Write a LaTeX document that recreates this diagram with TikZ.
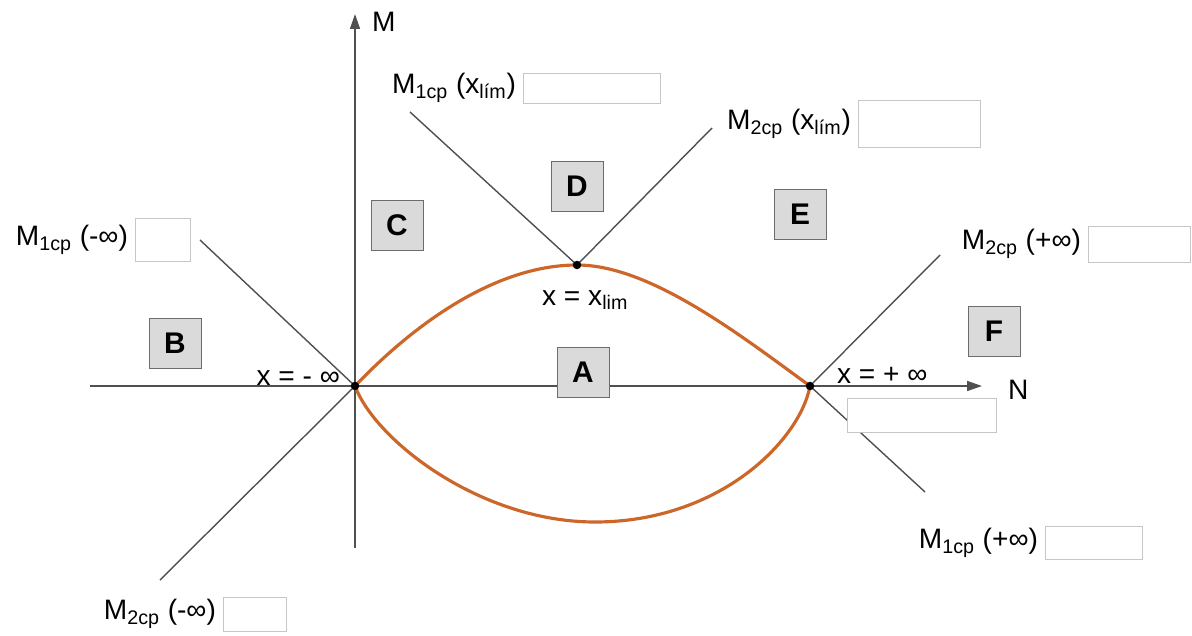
\documentclass[tikz,border=0pt]{standalone}
\usepackage{fontspec}
\setmainfont{Liberation Sans}
\usetikzlibrary{arrows.meta,positioning}
\definecolor{ccurve}{RGB}{204,102,41}
\definecolor{cline}{RGB}{80,80,80}
\definecolor{cregion}{RGB}{218,218,218}

\begin{document}
\begin{tikzpicture}[x=0.02cm, y=-0.02cm,
  font=\fontsize{16}{19}\selectfont,
  region/.style={draw=gray!85!black, fill=cregion, minimum width=1.04cm, minimum height=1cm, font=\fontsize{17}{19}\selectfont\bfseries},
  blank/.style={draw=gray!45, fill=white, inner sep=0pt},
  lbl/.style={inner sep=1pt},
  ln/.style={cline, line width=0.8pt},
  axis/.style={cline, line width=0.9pt, -{Triangle[length=3mm,width=2mm]}},
  curve/.style={ccurve, line width=1.8pt},
  pt/.style={circle, fill=black, inner sep=0pt, minimum size=1.7mm},
]
\useasboundingbox (0,0) rectangle (1192,635);

% ---- axes ----
\coordinate (nl) at (90,386);
\coordinate (nr) at (982,386);
\coordinate (mb) at (355,548);
\coordinate (mt) at (355,14);
\draw[axis] (nl) -- (nr);
\draw[axis] (mb) -- (mt);
\node[lbl, anchor=west] (N) at (1006,390) {N};
\node[lbl, anchor=west] (M) at (370,22) {M};

% ---- key points ----
\coordinate (pmi) at (355,386);
\coordinate (pxl) at (577,265);
\coordinate (ppi) at (810,386);

% ---- interaction curve ----
\draw[curve] (pmi) .. controls (420,318) and (500,265) .. (pxl)
  .. controls (650,265) and (740,335) .. (ppi);
\draw[curve] (pmi) .. controls (375,440) and (480,522) .. (595,522)
  .. controls (720,522) and (800,440) .. (ppi);

% ---- limit lines ----
\coordinate (e1mi) at (200,240);
\coordinate (e2mi) at (160,580);
\coordinate (e1xl) at (410,112);
\coordinate (e2xl) at (712,128);
\coordinate (e2pi) at (940,255);
\coordinate (e1pi) at (925,492);
\draw[ln] (e1mi) -- (pmi);
\draw[ln] (pmi) -- (e2mi);
\draw[ln] (e1xl) -- (pxl);
\draw[ln] (pxl) -- (e2xl);
\draw[ln] (ppi) -- (e2pi);
\draw[ln] (ppi) -- (e1pi);
\node[pt] (dmi) at (pmi) {};
\node[pt] (dxl) at (pxl) {};
\node[pt] (dpi) at (ppi) {};

% ---- line labels with blank boxes ----
\node[lbl, anchor=east] (m1xl) at (518,88) {M\textsubscript{1cp} (x\textsubscript{lím})};
\node[blank, right=1mm of m1xl, minimum width=2.74cm, minimum height=0.6cm] (b1xl) {};
\node[lbl, anchor=east] (m2xl) at (853,124) {M\textsubscript{2cp} (x\textsubscript{lím})};
\node[blank, right=1mm of m2xl, minimum width=2.44cm, minimum height=0.94cm] (b2xl) {};
\node[lbl, anchor=east] (m1mi) at (130,240) {M\textsubscript{1cp} (-∞)};
\node[blank, right=1mm of m1mi, minimum width=1.1cm, minimum height=0.86cm] (b1mi) {};
\node[lbl, anchor=east] (m2pi) at (1083,244) {M\textsubscript{2cp} (+∞)};
\node[blank, right=1mm of m2pi, minimum width=2.04cm, minimum height=0.72cm] (b2pi) {};
\node[lbl, anchor=east] (m1pi) at (1040,543) {M\textsubscript{1cp} (+∞)};
\node[blank, right=1mm of m1pi, minimum width=1.94cm, minimum height=0.66cm] (b1pi) {};
\node[lbl, anchor=east] (m2mi) at (218,614) {M\textsubscript{2cp} (-∞)};
\node[blank, right=1mm of m2mi, minimum width=1.26cm, minimum height=0.68cm] (b2mi) {};
\node[blank, minimum width=2.98cm, minimum height=0.68cm] (bN) at (922,415) {};

% ---- point labels ----
\node[lbl, anchor=base east] (xmi) at (342,385) {x = - ∞};
\node[lbl, anchor=base west] (xxl) at (540,305) {x = x\textsubscript{lim}};
\node[lbl, anchor=base west] (xpi) at (835,383) {x = + ∞};

% ---- regions ----
\node[region] (A) at (583,372) {A};
\node[region] (B) at (175,343) {B};
\node[region] (C) at (397,225) {C};
\node[region] (D) at (577,186) {D};
\node[region] (E) at (800,214) {E};
\node[region] (F) at (994,331) {F};
\end{tikzpicture}
\end{document}
